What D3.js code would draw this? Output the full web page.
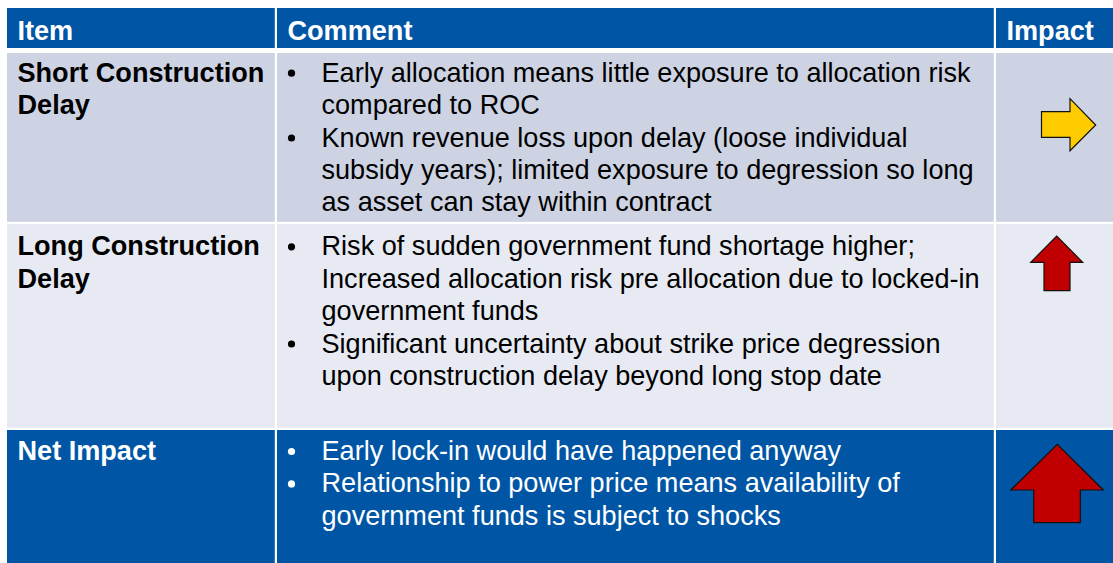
<!DOCTYPE html>
<html>
<head>
<meta charset="utf-8">
<script src="https://cdn.jsdelivr.net/npm/d3@7"></script>
<style>
  html, body { margin: 0; padding: 0; background: #fff; }
  svg { display: block; font-family: "Liberation Sans", Arial, sans-serif; }
</style>
</head>
<body>
<div id="chart"></div>
<script>
// table content
const headers = ['Item', 'Comment', 'Impact'];
const items = [['Short Construction', 'Delay'], ['Long Construction', 'Delay'], ['Net Impact']];
const comments = [
    [['Early allocation means little exposure to allocation risk', 'compared to ROC'],
     ['Known revenue loss upon delay (loose individual', 'subsidy years); limited exposure to degression so long', 'as asset can stay within contract']],
    [['Risk of sudden government fund shortage higher;', 'Increased allocation risk pre allocation due to locked-in', 'government funds'],
     ['Significant uncertainty about strike price degression', 'upon construction delay beyond long stop date']],
    [['Early lock-in would have happened anyway'],
     ['Relationship to power price means availability of', 'government funds is subject to shocks']]
];
const impacts = ['right', 'up', 'up-big'];

// layout
const width = 1113, height = 563;
const colEdges = [7, 277, 996, 1113];
const rowEdges = [8, 53, 224, 430, 563];
const gap = 2.2;
const rowFill = ['#CDD3E3', '#E7EAF2', '#0056A5'];
const rowText = ['#000', '#000', '#fff'];
const headerFill = '#0056A5';
const fontSize = 27.1;

const svg = d3.select('#chart').append('svg')
    .attr('width', width)
    .attr('height', height);

const x = i => colEdges[i];
const y = i => rowEdges[i];

// header
const head = svg.append('g');
headers.forEach((h, i) => {
    head.append('rect')
        .attr('x', x(i))
        .attr('y', y(0))
        .attr('width', x(i + 1) - x(i) - (i < 2 ? gap : 0))
        .attr('height', 40)
        .attr('fill', headerFill);
    head.append('text')
        .attr('x', x(i) + 10.5)
        .attr('y', y(0) + 31.5)
        .attr('fill', '#fff')
        .attr('font-size', fontSize)
        .attr('font-weight', 'bold')
        .text(h);
});

const lineH = 32.4;

items.forEach((item, r) => {
    const g = svg.append('g');
    const top = y(r + 1);
    const h = y(r + 2) - top - (r < 2 ? gap : 0);
    for (let c = 0; c < 3; c++) {
        g.append('rect')
            .attr('x', x(c))
            .attr('y', top)
            .attr('width', x(c + 1) - x(c) - (c < 2 ? gap : 0))
            .attr('height', h)
            .attr('fill', rowFill[r]);
    }
    const base = top + [28.7, 31.3, 30][r];

    // item label
    g.append('text')
        .attr('fill', rowText[r])
        .attr('font-size', fontSize)
        .attr('font-weight', 'bold')
        .selectAll('tspan')
        .data(item)
        .join('tspan')
        .attr('x', x(0) + 10.5)
        .attr('y', (d, i) => base + i * lineH)
        .text(d => d);

    // comment bullets
    let line = 0;
    comments[r].forEach(bullet => {
        g.append('circle')
            .attr('cx', 291.5)
            .attr('cy', base + line * lineH - 8.5)
            .attr('r', 3.6)
            .attr('fill', rowText[r]);
        g.append('text')
            .attr('fill', rowText[r])
            .attr('font-size', fontSize)
            .selectAll('tspan')
            .data(bullet)
            .join('tspan')
            .attr('x', 321.5)
            .attr('y', (d, i) => base + (line + i) * lineH)
            .text(d => d);
        line += bullet.length;
    });
});

// impact arrows
const arrows = {
    right: [[1041.5, 111.7], [1070, 111.7], [1070, 98.7], [1095.7, 125], [1070, 150.7], [1070, 137.3], [1041.5, 137.3]],
    up: [[1044, 290.7], [1044, 262.3], [1030.7, 262.3], [1056.7, 236], [1082.7, 262.3], [1070, 262.3], [1070, 290.7]],
    'up-big': [[1033.7, 522.7], [1033.7, 490], [1010.7, 490], [1057.3, 444.3], [1103.3, 490], [1080.3, 490], [1080.3, 522.7]]
};
const arrowFill = { right: '#FFCC00', up: '#C00000', 'up-big': '#C00000' };

svg.append('g').selectAll('path')
    .data(impacts)
    .join('path')
    .attr('d', d => d3.line()(arrows[d]) + 'Z')
    .attr('fill', d => arrowFill[d])
    .attr('stroke', '#111')
    .attr('stroke-width', 1.2)
    .attr('stroke-linejoin', 'miter');
</script>
</body>
</html>
